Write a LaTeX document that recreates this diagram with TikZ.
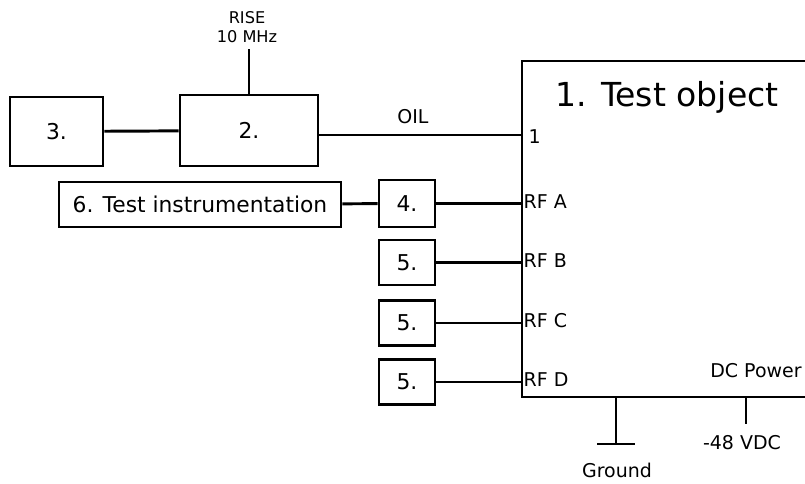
\documentclass[tikz,border=0pt]{standalone}
\usepackage{fontspec}
\setmainfont{DejaVu Sans}
\usetikzlibrary{positioning}

\begin{document}
\begin{tikzpicture}[
  x=0.025cm, y=-0.025cm,
  blk/.style={rectangle, draw, line width=2.1pt, inner sep=0pt,
    font=\fontsize{15.5}{18}\selectfont},
  wire/.style={line width=2.1pt},
  lbl/.style={font=\fontsize{13.5}{16}\selectfont, inner sep=1pt},
  port/.style={lbl, anchor=west}
]
  \useasboundingbox (0,0) rectangle (805,483);

  % units and test object
  \node[blk, minimum width=93*0.025cm, minimum height=69*0.025cm] (syn)
    at (56.5,131.5) {3.};
  \node[blk, minimum width=138*0.025cm, minimum height=71*0.025cm] (mod)
    at (249,130.5) {2.};
  \node[blk, minimum width=282*0.025cm, minimum height=45*0.025cm] (ins)
    at (200,204.5) {6. Test instrumentation};
  \node[blk, minimum width=56*0.025cm, minimum height=47*0.025cm] (att)
    at (407,203.5) {4.};
  \node[blk, minimum width=56*0.025cm, minimum height=45*0.025cm] (ldb)
    at (407,262.5) {5.};
  \node[blk, minimum width=56*0.025cm, minimum height=45*0.025cm] (ldc)
    at (407,323) {5.};
  \node[blk, minimum width=56*0.025cm, minimum height=45*0.025cm] (ldd)
    at (407,382) {5.};
  \node[blk, minimum width=340*0.025cm, minimum height=336*0.025cm] (obj)
    at (692,229) {};
  \node[font=\fontsize{23.5}{27}\selectfont] (ttl) at (667,97) {1. Test object};

  % labels
  \node[lbl, font=\fontsize{11.5}{14}\selectfont, align=center] (rise)
    at (247,27) {RISE\\10 MHz};
  \node[lbl] (oil) at (413,117) {OIL};
  \node[port] (p1) at (527,137) {1};
  \node[port] (rfa) at (522,202) {RF A};
  \node[port] (rfb) at (522,261) {RF B};
  \node[port] (rfc) at (522,321) {RF C};
  \node[port] (rfd) at (522,380) {RF D};
  \node[lbl] (dcp) at (756,371) {DC Power};
  \node[lbl] (vdc) at (742,443) {-48 VDC};
  \node[lbl] (gtx) at (617,470) {Ground};
  \coordinate (gnd) at (616,444);
  \coordinate (pwr) at (746,424);

  % connections
  \draw[wire] (syn) -- (mod);
  \draw[wire] (mod.north) -- (mod.north |- 0,49);
  \draw[wire] (mod.east |- 0,135) -- (obj.west |- 0,135);
  \draw[wire] (ins) -- (att);
  \draw[wire] (att) -- (att -| obj.west);
  \draw[wire] (ldb) -- (ldb -| obj.west);
  \draw[wire] (ldc) -- (ldc -| obj.west);
  \draw[wire] (ldd) -- (ldd -| obj.west);
  \draw[wire] (gnd |- obj.south) -- (gnd);
  \draw[wire] (gnd) ++(-19,0) -- ++(38,0);
  \draw[wire] (pwr |- obj.south) -- (pwr);
\end{tikzpicture}
\end{document}
